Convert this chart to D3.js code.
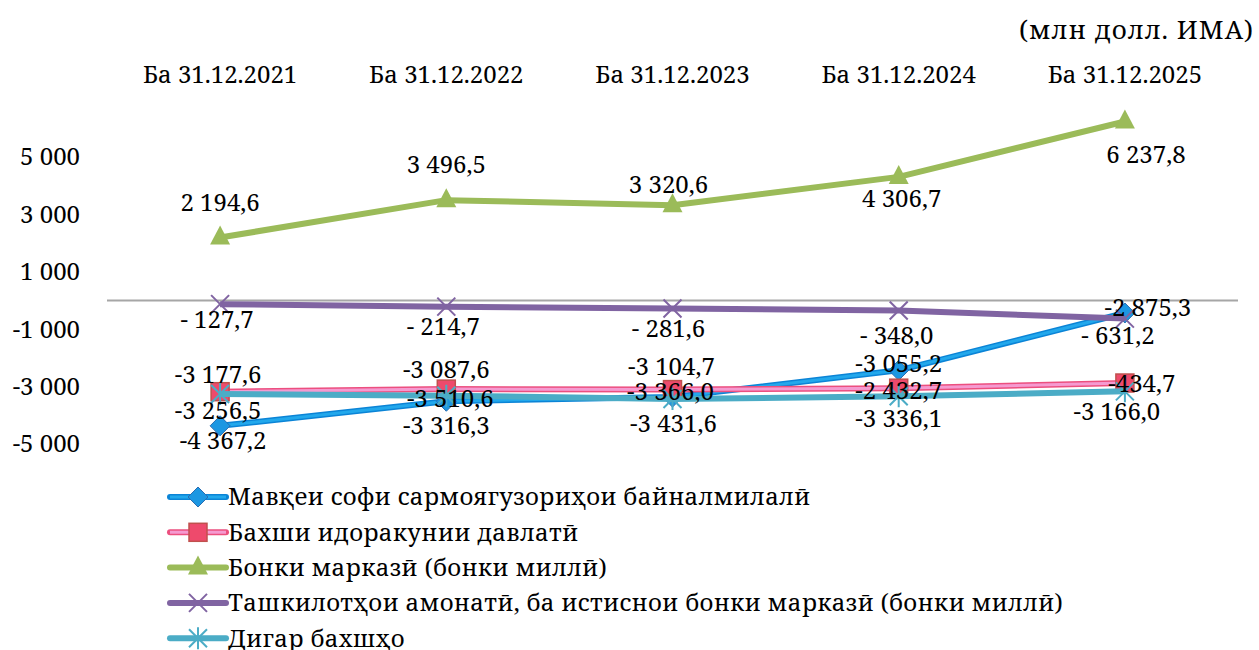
<!DOCTYPE html>
<html>
<head>
<meta charset="utf-8">
<script src="https://cdn.jsdelivr.net/npm/d3@7"></script>
<style>
  body { margin: 0; background: #fff; }
</style>
</head>
<body>
<script>
// data (млн долл. ИМА)
const categories = ["Ба 31.12.2021", "Ба 31.12.2022", "Ба 31.12.2023", "Ба 31.12.2024", "Ба 31.12.2025"];
const netPosition = [-4367.2, -3510.6, -3366.0, -2432.7, -434.7];
const government = [-3177.6, -3087.6, -3104.7, -3055.2, -2875.3];
const centralBank = [2194.6, 3496.5, 3320.6, 4306.7, 6237.8];
const depositTaking = [-127.7, -214.7, -281.6, -348.0, -631.2];
const otherSectors = [-3256.5, -3316.3, -3431.6, -3336.1, -3166.0];
const seriesNames = [
    "Мавқеи софи сармоягузориҳои байналмилалӣ",
    "Бахши идоракунии давлатӣ",
    "Бонки марказӣ (бонки миллӣ)",
    "Ташкилотҳои амонатӣ, ба истиснои бонки марказӣ (бонки миллӣ)",
    "Дигар бахшҳо"
];
const yTicks = [-5000, -3000, -1000, 1000, 3000, 5000];
const unitLabel = "(млн долл. ИМА)";

// label nudges (px) so labels sit where they do in the original
const labelDx = [
    [3, 4, -2, 0, 17],
    [-2, 0, -1, 0, 23],
    [0, 0, -4, 3, 21],
    [-3, -3, -4, -2, -7],
    [-2, 0, 1, 0, -8]
];
const labelDy = [
    [15, -3, -6, 20, 71],
    [-17, -20, -23, -25, -75],
    [-35, -36, -21, 22, 33],
    [15, 20, 20, 25, 17],
    [17, 30, 25, 22, 20]
];

const width = 1259, height = 650;
const svg = d3.select("body").append("svg")
    .attr("width", width)
    .attr("height", height)
    .attr("font-family", "'Noto Serif', 'Liberation Serif', serif")
    .attr("font-size", 24);

const loc = d3.formatLocale({decimal: ",", thousands: " ", grouping: [3], currency: ["", ""], minus: "-"});
const fmt1 = loc.format(",.1f");
const fmt0 = loc.format(",d");

const x = d3.scaleBand().domain(categories).range([107, 1238]);
const y = d3.scaleLinear().domain([-5000, 7000]).range([444, 99.6]);
const cx = d => x(d) + x.bandwidth() / 2;

// y axis labels
svg.append("g").selectAll("text")
    .data(yTicks)
    .enter().append("text")
    .attr("x", 80)
    .attr("y", d => y(d))
    .attr("dy", "0.35em")
    .attr("text-anchor", "end")
    .text(d => fmt0(d));

// category labels at the top
svg.append("g").selectAll("text")
    .data(categories)
    .enter().append("text")
    .attr("x", d => cx(d))
    .attr("y", 75)
    .attr("dy", "0.35em")
    .attr("text-anchor", "middle")
    .text(d => d);

svg.append("text")
    .attr("x", 1254)
    .attr("y", 30)
    .attr("dy", "0.35em")
    .attr("text-anchor", "end")
    .attr("font-size", 26)
    .attr("letter-spacing", 1)
    .text(unitLabel);

// zero line
svg.append("line")
    .attr("x1", 107).attr("x2", 1238)
    .attr("y1", y(0)).attr("y2", y(0))
    .attr("stroke", "#a6a6a6")
    .attr("stroke-width", 2);

const series = [
    {name: seriesNames[0], values: netPosition, color: "#0b84d6", inner: "#22a8ec", marker: "diamond", fmt: fmt1},
    {name: seriesNames[1], values: government, color: "#ec4f7f", inner: "#f59ad0", marker: "square", fmt: fmt1},
    {name: seriesNames[2], values: centralBank, color: "#9bbb59", inner: null, marker: "triangle", fmt: fmt1},
    {name: seriesNames[3], values: depositTaking, color: "#8064a2", inner: null, marker: "x", fmt: v => (v < 0 ? "- " : "") + fmt1(Math.abs(v))},
    {name: seriesNames[4], values: otherSectors, color: "#4bacc6", inner: null, marker: "star", fmt: fmt1}
];

function drawMarker(g, type, px, py) {
    if (type === "diamond") {
        g.append("path")
            .attr("d", `M${px},${py - 10}L${px + 10},${py}L${px},${py + 10}L${px - 10},${py}Z`)
            .attr("fill", "#1c97e2").attr("stroke", "#2a6cb0").attr("stroke-width", 1);
    } else if (type === "square") {
        g.append("rect")
            .attr("x", px - 9).attr("y", py - 9).attr("width", 18).attr("height", 18)
            .attr("fill", "#ee4a6c").attr("stroke", "#c0504d").attr("stroke-width", 1.5);
    } else if (type === "triangle") {
        g.append("path")
            .attr("d", `M${px},${py - 12}L${px + 10},${py + 7}L${px - 10},${py + 7}Z`)
            .attr("fill", "#9bbb59");
    } else if (type === "x") {
        g.append("path")
            .attr("d", `M${px - 9},${py - 9}L${px + 9},${py + 9}M${px - 9},${py + 9}L${px + 9},${py - 9}`)
            .attr("stroke", "#8064a2").attr("stroke-width", 2);
    } else if (type === "star") {
        g.append("path")
            .attr("d", `M${px - 9},${py - 9}L${px + 9},${py + 9}M${px - 9},${py + 9}L${px + 9},${py - 9}M${px},${py - 11}L${px},${py + 11}`)
            .attr("stroke", "#4bacc6").attr("stroke-width", 2);
    }
}

const line = d3.line()
    .x((d, i) => cx(categories[i]))
    .y(d => y(d));

series.forEach(s => {
    const g = svg.append("g");
    g.append("path")
        .attr("d", line(s.values))
        .attr("fill", "none")
        .attr("stroke", s.color)
        .attr("stroke-width", 6)
        .attr("stroke-linejoin", "round");
    if (s.inner) {
        g.append("path")
            .attr("d", line(s.values))
            .attr("fill", "none")
            .attr("stroke", s.inner)
            .attr("stroke-width", 3)
            .attr("stroke-linejoin", "round");
    }
    s.values.forEach((v, i) => drawMarker(g, s.marker, cx(categories[i]), y(v)));
});

// data labels on top
series.forEach((s, si) => {
    svg.append("g").selectAll("text")
        .data(s.values)
        .enter().append("text")
        .attr("x", (d, i) => cx(categories[i]) + labelDx[si][i])
        .attr("y", (d, i) => y(d) + labelDy[si][i])
        .attr("dy", "0.35em")
        .attr("text-anchor", "middle")
        .text(d => s.fmt(d));
});

// legend
const legend = svg.append("g");
series.forEach((s, i) => {
    const ly = 497 + i * 35.3;
    legend.append("line")
        .attr("x1", 170).attr("x2", 226)
        .attr("y1", ly).attr("y2", ly)
        .attr("stroke", s.color)
        .attr("stroke-width", 6)
        .attr("stroke-linecap", "round");
    if (s.inner) {
        legend.append("line")
            .attr("x1", 170).attr("x2", 226)
            .attr("y1", ly).attr("y2", ly)
            .attr("stroke", s.inner)
            .attr("stroke-width", 3);
    }
    drawMarker(legend, s.marker, 198, ly);
    legend.append("text")
        .attr("x", 228)
        .attr("y", ly)
        .attr("dy", "0.35em")
        .attr("letter-spacing", 0.3)
        .text(s.name);
});
</script>
</body>
</html>
